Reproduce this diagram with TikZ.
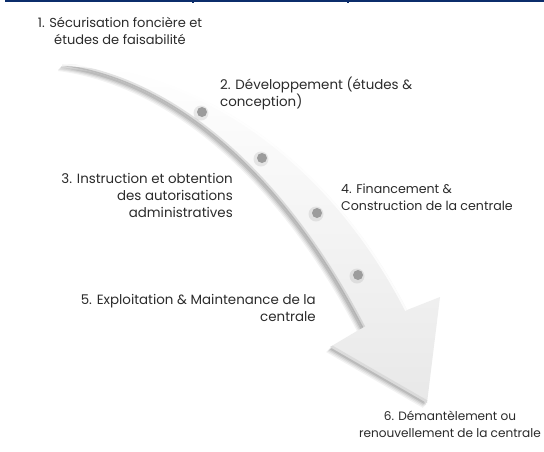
\documentclass[tikz,border=0pt]{standalone}
\usepackage{fontspec}
\setmainfont{Poppins}
\definecolor{txt}{HTML}{2B2B2B}
\definecolor{navy}{HTML}{0B2D6B}
\definecolor{dotc}{HTML}{9C9C9C}
\begin{document}
\begin{tikzpicture}[x=1pt,y=-1pt,
  lbl/.style={font=\fontsize{#1}{17}\selectfont, text=txt, inner sep=0pt},
  lbl/.default=13,
  dotmark/.style={fill=dotc}]
\useasboundingbox (0,0) rectangle (544,451);
\fill[white] (0,0) rectangle (544,451);
% top line
\fill[navy] (5,0) rectangle (544,1.6);
\fill[navy] (192,1.6) rectangle (194,3);
\fill[navy] (347,1.6) rectangle (349,3);
\def\arrowpath{(62,64) .. controls (200,68) and (330,160) .. (407,310) -- (440,297) -- (427,403) -- (330,347) -- (362,328) .. controls (280,170) and (170,80) .. (62,66) -- cycle}
% soft shadow
\foreach \dx/\dy/\op in {-4/5/0.05,-3/4/0.06,-2/3/0.08,-1/2/0.10}{
  \begin{scope}[shift={(\dx,\dy)}]
  \fill[black,opacity=\op] \arrowpath;
  \end{scope}}
% body
\shade[top color=white, bottom color=black!9] \arrowpath;
\begin{scope}
  \clip \arrowpath;
  \draw[black!45, line width=7, opacity=0.25] (362,328) .. controls (280,170) and (170,80) .. (62,66);
  \draw[black!45, line width=3, opacity=0.45] (362,328) .. controls (280,170) and (170,80) .. (62,66);
  \draw[white, line width=4, opacity=0.8] (62,64) .. controls (200,68) and (330,160) .. (407,310);
  \draw[black!25, line width=5, opacity=0.35] (330,347) -- (427,403);
\end{scope}
% dots
\foreach \n/\px/\py in {d1/202/112,d2/262/158,d3/317/213,d4/358/275}{
  \fill[black,opacity=0.08] (\px-1,\py+1) circle (7.5);
  \node[circle, dotmark, minimum size=10pt, inner sep=0pt] (\n) at (\px,\py) {};
}
% labels
\node[lbl=13, align=center] (s1) at (120,31) {1. Sécurisation foncière et\\études de faisabilité};
\node[lbl=13.4, align=left, anchor=west] (s2) at (220,93) {2. Développement (études \&\\conception)};
\node[lbl=13.4, align=right, anchor=east] (s3) at (233,195) {3. Instruction et obtention\\des autorisations\\administratives};
\node[lbl=12.6, align=left, anchor=west] (s4) at (341,197) {4. Financement \&\\Construction de la centrale};
\node[lbl=13.4, align=right, anchor=east] (s5) at (316,308) {5. Exploitation \& Maintenance de la\\centrale};
\node[lbl=12.1, align=center] (s6) at (450,424) {6. Démantèlement ou\\renouvellement de la centrale};
\end{tikzpicture}
\end{document}
